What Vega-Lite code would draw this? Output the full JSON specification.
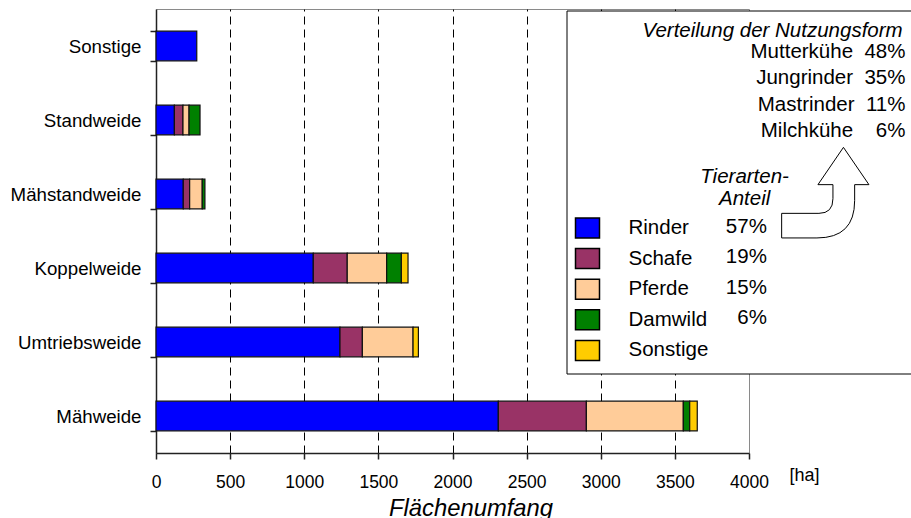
{
  "$schema": "https://vega.github.io/schema/vega-lite/v6.json",
  "width": 593,
  "height": 444,
  "autosize": {"type": "none"},
  "padding": {"left": 156, "top": 9, "right": 162, "bottom": 65},
  "background": "white",
  "config": {
    "font": "Liberation Sans",
    "view": {"stroke": "#8a8a8a", "strokeWidth": 1},
    "legend": {
      "labelFont": "Liberation Sans",
      "titleFont": "Liberation Sans",
      "labelColor": "black",
      "titleColor": "black",
      "labelFontSize": 20.5,
      "titleFontSize": 20.5,
      "titleFontWeight": "normal",
      "titleFontStyle": "italic",
      "labelLimit": 400,
      "titleLimit": 400
    }
  },
  "title": {
    "text": "Flächenumfang",
    "orient": "bottom",
    "anchor": "middle",
    "frame": "group",
    "font": "Liberation Sans",
    "fontSize": 23.8,
    "fontStyle": "italic",
    "fontWeight": "normal",
    "color": "black",
    "dx": 18.5,
    "offset": 6
  },
  "layer": [
    {
      "data": {
        "values": [
          {"weide": "Sonstige", "tierart": "Rinder", "nr": 1, "ha": 275},
          {"weide": "Standweide", "tierart": "Rinder", "nr": 1, "ha": 124},
          {"weide": "Standweide", "tierart": "Schafe", "nr": 2, "ha": 58},
          {"weide": "Standweide", "tierart": "Pferde", "nr": 3, "ha": 41},
          {"weide": "Standweide", "tierart": "Damwild", "nr": 4, "ha": 74},
          {"weide": "Mähstandweide", "tierart": "Rinder", "nr": 1, "ha": 184},
          {"weide": "Mähstandweide", "tierart": "Schafe", "nr": 2, "ha": 43},
          {"weide": "Mähstandweide", "tierart": "Pferde", "nr": 3, "ha": 85},
          {"weide": "Mähstandweide", "tierart": "Damwild", "nr": 4, "ha": 18},
          {"weide": "Koppelweide", "tierart": "Rinder", "nr": 1, "ha": 1061},
          {"weide": "Koppelweide", "tierart": "Schafe", "nr": 2, "ha": 229},
          {"weide": "Koppelweide", "tierart": "Pferde", "nr": 3, "ha": 266},
          {"weide": "Koppelweide", "tierart": "Damwild", "nr": 4, "ha": 99},
          {"weide": "Koppelweide", "tierart": "Sonstige", "nr": 5, "ha": 45},
          {"weide": "Umtriebsweide", "tierart": "Rinder", "nr": 1, "ha": 1241},
          {"weide": "Umtriebsweide", "tierart": "Schafe", "nr": 2, "ha": 151},
          {"weide": "Umtriebsweide", "tierart": "Pferde", "nr": 3, "ha": 342},
          {"weide": "Umtriebsweide", "tierart": "Sonstige", "nr": 5, "ha": 36},
          {"weide": "Mähweide", "tierart": "Rinder", "nr": 1, "ha": 2309},
          {"weide": "Mähweide", "tierart": "Schafe", "nr": 2, "ha": 594},
          {"weide": "Mähweide", "tierart": "Pferde", "nr": 3, "ha": 654},
          {"weide": "Mähweide", "tierart": "Damwild", "nr": 4, "ha": 43},
          {"weide": "Mähweide", "tierart": "Sonstige", "nr": 5, "ha": 51}
        ]
      },
      "mark": {"type": "bar", "stroke": "#111111", "strokeWidth": 1.2},
      "encoding": {
        "y": {
          "field": "weide",
          "type": "nominal",
          "sort": ["Sonstige", "Standweide", "Mähstandweide", "Koppelweide", "Umtriebsweide", "Mähweide"],
          "scale": {"paddingInner": 0.6, "paddingOuter": 0.3},
          "axis": {
            "title": null,
            "tickBand": "extent",
            "labelFont": "Liberation Sans",
            "labelFontSize": 18.7,
            "labelColor": "black",
            "labelPadding": 9,
            "tickSize": 6,
            "tickColor": "#222222",
            "tickWidth": 1.5,
            "domainColor": "#222222",
            "domainWidth": 1.5,
            "grid": false
          }
        },
        "x": {
          "field": "ha",
          "type": "quantitative",
          "stack": "zero",
          "scale": {"domain": [0, 4000], "nice": false},
          "axis": {
            "title": "[ha]",
            "titleX": 648,
            "titleY": 27,
            "titleAngle": 0,
            "titleAlign": "center",
            "titleBaseline": "alphabetic",
            "titleFont": "Liberation Sans",
            "titleFontSize": 18,
            "titleFontWeight": "normal",
            "titleColor": "black",
            "values": [0, 500, 1000, 1500, 2000, 2500, 3000, 3500, 4000],
            "format": "d",
            "labelFont": "Liberation Sans",
            "labelFontSize": 17.5,
            "labelColor": "black",
            "labelPadding": 14,
            "labelFlush": false,
            "labelOverlap": false,
            "tickSize": 6,
            "tickColor": "#222222",
            "tickWidth": 1.5,
            "domainColor": "#222222",
            "domainWidth": 1.5,
            "grid": true,
            "gridColor": "black",
            "gridWidth": 1,
            "gridDash": [8, 5],
            "gridOpacity": {"condition": {"test": "datum.value == 0 || datum.value == 4000", "value": 0}, "value": 1}
          }
        },
        "order": {"field": "nr", "type": "quantitative", "sort": "ascending"},
        "color": {
          "field": "tierart",
          "type": "nominal",
          "scale": {
            "domain": ["Rinder", "Schafe", "Pferde", "Damwild", "Sonstige"],
            "range": ["#0000ff", "#993366", "#ffcc99", "#008000", "#ffcc00"]
          },
          "legend": {
            "orient": "none",
            "legendX": 410.5,
            "legendY": 1.5,
            "padding": 10,
            "fillColor": "white",
            "strokeColor": "black",
            "title": "Verteilung der Nutzungsform",
            "titleAnchor": "middle",
            "titleAlign": "left",
            "titlePadding": 176,
            "symbolType": "M-1.2,-1H1.2V1H-1.2Z",
            "symbolSize": 400,
            "symbolStrokeColor": "black",
            "symbolStrokeWidth": 1.5,
            "labelOffset": 30,
            "rowPadding": 4.6
          }
        }
      }
    },
    {
      "data": {
        "values": [
          {"eintrag": "Mutterkühe\u00a0\u00a048%", "anteil": 48},
          {"eintrag": "Jungrinder\u00a0\u00a035%", "anteil": 35},
          {"eintrag": "Mastrinder\u00a0\u00a011%", "anteil": 11},
          {"eintrag": "Milchkühe\u00a0\u00a0\u00a0\u00a06%", "anteil": 6}
        ]
      },
      "mark": {
        "type": "point",
        "filled": true,
        "color": "transparent",
        "shape": "M-37.3,22.7H0Q14,22.7,14,8V-6H-1L24.5,-43.3L50,-6H35.7V10Q35.7,47.3,-2,47.3H-37.3Z"
      },
      "encoding": {
        "shape": {
          "field": "eintrag",
          "type": "nominal",
          "sort": null,
          "legend": {
            "orient": "none",
            "legendX": 440,
            "legendY": 33,
            "padding": 0,
            "title": null,
            "symbolOpacity": 0,
            "symbolSize": 100,
            "labelAlign": "right",
            "labelOffset": 289,
            "rowPadding": 5.2
          }
        },
        "size": {
          "field": "anteil",
          "type": "quantitative",
          "scale": {"range": [4, 4]},
          "legend": {
            "orient": "none",
            "legendX": 652.7,
            "legendY": 171.4,
            "padding": 0,
            "title": null,
            "values": [48],
            "labelExpr": "''",
            "symbolType": "M-37.3,22.7H0Q14,22.7,14,8V-6H-1L24.5,-43.3L50,-6H35.7V10Q35.7,47.3,-2,47.3H-37.3Z",
            "symbolOpacity": 1,
            "symbolFillColor": "white",
            "symbolStrokeColor": "black",
            "symbolStrokeWidth": 1
          }
        }
      }
    },
    {
      "data": {
        "values": [
          {"tierart": "Rinder", "anteil": "57%"},
          {"tierart": "Schafe", "anteil": "19%"},
          {"tierart": "Pferde", "anteil": "15%"},
          {"tierart": "Damwild", "anteil": "6%"}
        ]
      },
      "mark": {"type": "point", "color": "transparent"},
      "encoding": {
        "strokeDash": {
          "field": "anteil",
          "type": "nominal",
          "sort": null,
          "legend": {
            "orient": "none",
            "legendX": 544.6,
            "legendY": 157.8,
            "padding": 0,
            "title": ["Tierarten-", "Anteil"],
            "titleAnchor": "middle",
            "titleAlign": "center",
            "titleLineHeight": 22,
            "titlePadding": 7,
            "symbolOpacity": 0,
            "symbolSize": 100,
            "labelAlign": "right",
            "labelOffset": 24.8,
            "rowPadding": 9.6
          }
        }
      }
    }
  ]
}
